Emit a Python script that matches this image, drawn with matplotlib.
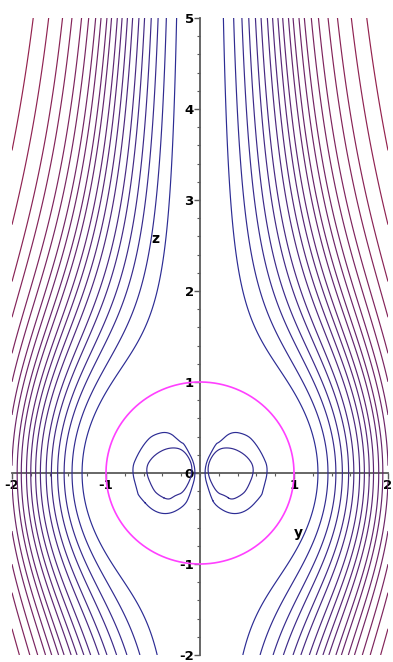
import numpy as np
import matplotlib
matplotlib.use("Agg")
import matplotlib.pyplot as plt
from matplotlib.colors import to_rgb
import contourpy

plt.rcParams["axes.unicode_minus"] = False

# ---- data ----
# contour levels of the stream function (outer streamlines, inner to outer)
levels = [0.14, 0.29, 0.45, 0.61, 0.79, 0.96, 1.17, 1.36, 1.57, 1.77,
          2.03, 2.25, 2.55, 2.84, 3.24, 3.68, 4.32, 5.0, 6.1, 7.47]
# levels that also show up as closed loops inside the sphere
lobe_levels = [0.14, 0.29]
y_range = [-2, 2]
z_range = [-2, 5]
coarse_grid = [25, 25]
sphere_radius = 1.0
x_ticks = [-2, -1, 1, 2]
y_ticks = [-2, -1, 0, 1, 2, 3, 4, 5]


def stream(y, z):
    r2 = y ** 2 + z ** 2
    r2 = np.where(r2 == 0, 1e-12, r2)
    return y ** 2 * (np.log(r2) - 1.0) + y ** 2 / r2


def chaikin(pts, n_iter=3):
    closed = np.allclose(pts[0], pts[-1])
    p = pts[:-1] if closed else pts
    for _ in range(n_iter):
        if closed:
            q = np.roll(p, -1, axis=0)
        else:
            q = p[1:]
            p = p[:-1]
        a = 0.75 * p + 0.25 * q
        b = 0.25 * p + 0.75 * q
        p = np.empty((2 * len(a), 2))
        p[0::2] = a
        p[1::2] = b
    if closed:
        p = np.vstack([p, p[:1]])
    return p


c0 = np.array(to_rgb("#2c2c94"))
c1 = np.array(to_rgb("#94224e"))
n = len(levels)
colors = [tuple(c0 + (c1 - c0) * i / (n - 1)) for i in range(n)]

fig = plt.figure(figsize=(3.93, 6.62), dpi=100)
ax = fig.add_axes([12 / 393, 7 / 662, 376 / 393, 637 / 662])

# outer field (fine grid), nothing inside the sphere
yf = np.linspace(y_range[0], y_range[1], 801)
zf = np.linspace(z_range[0], z_range[1], 1401)
Y, Z = np.meshgrid(yf, zf)
F = stream(Y, Z)
F = np.where(Y ** 2 + Z ** 2 < sphere_radius ** 2, 0.0, F)
ax.contour(Y, Z, F, levels=levels, colors=colors, linewidths=0.85)

# inner loops on a coarse grid (as in the original rendering), smoothed
yc = np.linspace(y_range[0], y_range[1], coarse_grid[0])
zc = np.linspace(z_range[0], z_range[1], coarse_grid[1])
Yc, Zc = np.meshgrid(yc, zc)
Fc = stream(Yc, Zc)
Fc = np.where(Yc ** 2 + Zc ** 2 < sphere_radius ** 2, Fc, 0.0)
gen = contourpy.contour_generator(Yc, Zc, Fc)
for lev, col in zip(lobe_levels, colors[:2]):
    for seg in gen.lines(lev):
        sm = chaikin(np.asarray(seg), 4)
        ax.plot(sm[:, 0], sm[:, 1], color=col, lw=0.85)

# sphere
t = np.linspace(0, 2 * np.pi, 400)
ax.plot(sphere_radius * np.cos(t), sphere_radius * np.sin(t),
        color="#ff40ff", lw=1.2)

ax.set_xlim(y_range)
ax.set_ylim(z_range)

for s in ["top", "right"]:
    ax.spines[s].set_visible(False)
ax.spines["left"].set_position(("data", 0))
ax.spines["bottom"].set_position(("data", 0))
for s in ["left", "bottom"]:
    ax.spines[s].set_color("#5a5a5a")
    ax.spines[s].set_linewidth(1.3)
    ax.spines[s].set_zorder(0.5)

ax.set_xticks(x_ticks)
ax.set_yticks(y_ticks)
ax.set_xticks(np.arange(-2, 2.01, 0.2), minor=True)
ax.set_yticks(np.arange(-2, 5.01, 0.2), minor=True)
ax.tick_params(which="major", length=4, width=1, color="#5a5a5a", pad=0.5)
ax.tick_params(which="minor", length=2.5, width=0.8, color="#5a5a5a")
for lab in ax.get_xticklabels() + ax.get_yticklabels():
    lab.set_fontweight("bold")
    lab.set_fontsize(9.5)

ax.text(1.05, -0.66, "y", fontsize=10, fontweight="bold", ha="center", va="center")
ax.text(-0.48, 2.57, "z", fontsize=10, fontweight="bold", ha="center", va="center")

fig.savefig("out.png", dpi=100, facecolor="white")
